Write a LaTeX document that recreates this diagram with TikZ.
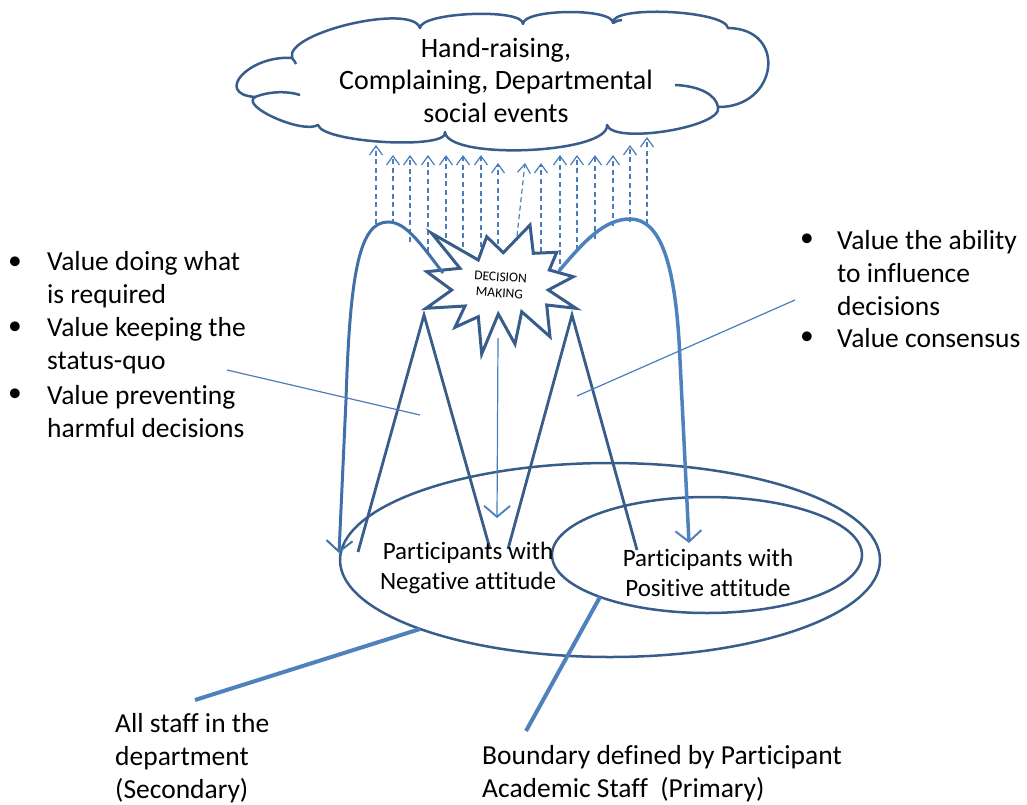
\documentclass[tikz,border=0pt]{standalone}
\usepackage{fontspec}
\setmainfont{Carlito}[Ligatures=NoCommon]
\usetikzlibrary{arrows.meta,shapes.geometric}
\definecolor{dkblue}{HTML}{385D8A}
\definecolor{mdblue}{HTML}{4A7EBB}
\definecolor{ltblue}{HTML}{4F81BD}
\definecolor{arcblue}{HTML}{4170A8}
\begin{document}
\begin{tikzpicture}[x=1pt,y=-1pt,
  outl/.style={draw=dkblue,line width=2.5pt},
  dasharrow/.style={draw=mdblue,line width=1.2pt,dash pattern=on 5pt off 3.5pt,
     -{Straight Barb[length=9pt,width=13pt,line width=1.2pt]}},
  bigtip/.style={-{Straight Barb[length=11pt,width=26pt,line width=2pt]}},
  mline/.style={draw=dkblue,line width=2.8pt},
  thinline/.style={draw=mdblue,line width=1.2pt},
  thickline/.style={draw=ltblue,line width=4pt},
  bigtxt/.style={font=\fontsize{27.5}{33}\selectfont,align=left,inner sep=0pt},
  midtxt/.style={font=\fontsize{25}{30}\selectfont,align=center,inner sep=0pt},
  bul/.style={font=\fontsize{27.5}{33}\selectfont,inner sep=0pt}
]
\useasboundingbox (0,0) rectangle (1027,805);

% cloud outline
\draw[outl,fill=white,line join=round] (292,58)
  .. controls (284,32.7) and (412,2.7) .. (420,28)
  .. controls (420.7,12) and (523.7,8) .. (523,24)
  .. controls (523,8.7) and (613,7.7) .. (613,23)
  .. controls (609.7,5) and (724.7,10) .. (728,28)
  .. controls (788,28.7) and (778,107.7) .. (718,107)
  .. controls (724,127) and (613,145) .. (607,125)
  .. controls (609.7,153.7) and (447.7,160.7) .. (445,132)
  .. controls (449.7,150) and (322.7,143) .. (318,125)
  .. controls (302.7,134.3) and (239.7,106.3) .. (255,97)
  .. controls (213,93.7) and (250,54.7) .. (292,58) -- cycle;
\draw[outl] (255,97) .. controls (270,91) and (288,91) .. (300,95);
\draw[outl] (718,107) .. controls (716,95) and (700,86) .. (675,85);
\draw[outl] (292,58) .. controls (294,60) and (295,62) .. (296,64);
\draw[outl] (613,23) .. controls (616,21) and (619,20) .. (622,20);
\node[font=\fontsize{28}{32.5}\selectfont,align=center,inner sep=0pt] (cloudtxt) at (496,80)
  {Hand-raising,\\Complaining, Departmental\\social events};

% dashed arrows to the cloud
\foreach \xa/\ya/\xb/\yb in {376/224/376/145, 393/224/393/155, 410/242/410/155,
  428/252/428/155, 446/246/446/155, 463/255/463/155, 481/255/481/155,
  498/252/498/163, 517/236/525/163, 541/252/541/163, 560/272/560/155,
  577/250/577/155, 595/239/595/155, 613/226/613/155, 630/222/630/145, 647/224/647/137}
  \draw[dasharrow] (\xa,\ya) -- (\xb,\yb);

% decision star
\draw[draw=dkblue,line width=3pt,fill=white,line join=miter]
  (431.7,233.3) -- (478.3,260) -- (486.7,236.7) -- (503.3,252.7) -- (530,225)
  -- (533.3,253.3) -- (556.7,252.3) -- (549.3,270) -- (573.3,276.7) -- (548.3,290)
  -- (576,308.3) -- (546.7,305) -- (550,336.7) -- (521.7,311.7) -- (515,344)
  -- (498.3,314) -- (481.7,354) -- (478.3,316.7) -- (455,327.3) -- (465,306)
  -- (426,308.3) -- (451.7,290) -- (426.7,271.7) -- (460,268.3) -- cycle;
\node[font=\fontsize{13.5}{16}\selectfont,align=center,inner sep=0pt,rotate=-4] (decision) at (500,285) {DECISION\\MAKING};

% ellipses
\node[ellipse, outl, minimum width=540pt, minimum height=194pt, inner sep=0pt] (outer) at (610,560) {};
\node[ellipse, outl, minimum width=310pt, minimum height=116pt, inner sep=0pt] (inner) at (707,555) {};

% arches
\coordinate (lstart) at (443,273);
\coordinate (lend) at (339,553);
\coordinate (rstart) at (559,271);
\coordinate (rend) at (689,543);
\draw[draw=arcblue,line width=3pt,bigtip] (lstart) .. controls (418,240) and (405,222) .. (388,222)
   .. controls (360,222) and (350,270) .. (346,400) -- (lend);
\draw[draw=ltblue,line width=3.5pt,bigtip] (rstart) .. controls (585,240) and (605,219) .. (630,219)
   .. controls (660,219) and (676,262) .. (680,360) -- (rend);

% M shape
\coordinate (la) at (358,552); \coordinate (lt) at (424,315); \coordinate (lb) at (490,549);
\coordinate (ra) at (508,549); \coordinate (rt) at (572,315); \coordinate (rb) at (637,550);
\draw[mline,line join=miter] (la) -- (lt) -- (lb);
\draw[mline,line join=miter] (ra) -- (rt) -- (rb);

% central arrow
\coordinate (cstart) at (498,338);
\coordinate (cend) at (497,518);
\draw[thinline,-{Straight Barb[length=11pt,width=26pt,line width=1.8pt]}] (cstart) -- (cend);

% texts in ellipses
\node[midtxt] (neg) at (468,568) {Participants with\\Negative attitude};
\node[midtxt] (pos) at (708,573) {Participants with\\Positive attitude};

% left bullets
\node[bul] (lb1) at (15,263) {•};
\node[bul] (lb2) at (15,328) {•};
\node[bul] (lb3) at (15,395) {•};
\node[bigtxt,anchor=west] (lt1) at (47,280) {Value doing what\\is required};
\node[bigtxt,anchor=west] (lt2) at (47,346) {Value keeping the\\status-quo};
\node[bigtxt,anchor=west] (lt3) at (47,412) {Value preventing\\harmful decisions};

% right bullets
\node[bul] (rb1) at (807,240) {•};
\node[bul] (rb2) at (807,338) {•};
\node[bigtxt,anchor=west] (rt1) at (837,273) {Value the ability\\to influence\\decisions};
\node[bigtxt,anchor=west] (rt2) at (837,338) {Value consensus};

% pointer lines
\coordinate (lp) at (420,415);
\coordinate (rp) at (577,396);
\draw[thinline] (227,370) -- (lp);
\draw[thinline] (rp) -- (795,300);

% bottom labels
\node[bigtxt,anchor=west] (allstaff) at (115,758) {All staff in the\\department\\(Secondary)};
\node[bigtxt,anchor=west] (boundary) at (482,774) {Boundary defined by Participant\\Academic Staff~~(Primary)};
\coordinate (op) at (420,629);
\coordinate (ip) at (600,597);
\draw[thickline] (op) -- (195,700);
\draw[thickline] (ip) -- (526,731);
\end{tikzpicture}
\end{document}
